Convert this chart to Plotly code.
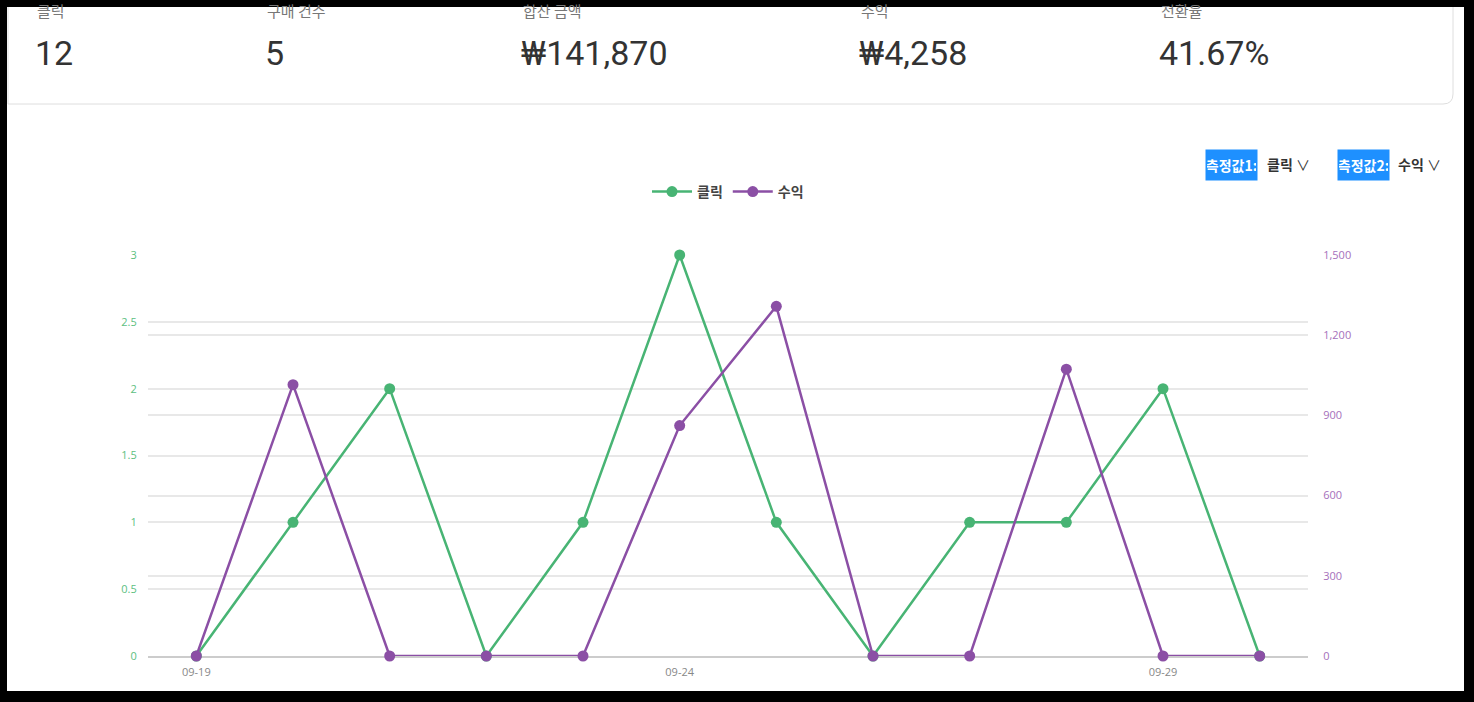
import plotly.graph_objects as go

dates = ["09-19", "09-20", "09-21", "09-22", "09-23", "09-24", "09-25", "09-26", "09-27", "09-28", "09-29", "09-30"]
clicks = [0, 1, 2, 0, 1, 3, 1, 0, 1, 1, 2, 0]
revenue = [0, 1015, 0, 0, 0, 862, 1308, 0, 0, 1073, 0, 0]
x_tick_labels = ["09-19", "09-24", "09-29"]
left_ticks = [0, 0.5, 1, 1.5, 2, 2.5, 3]
right_ticks = [0, 300, 600, 900, 1200, 1500]

stat_labels = ["클릭", "구매 건수", "합산 금액", "수익", "전환율"]
stat_values = ["12", "5", "₩141,870", "₩4,258", "41.67%"]
stat_x_px = [35, 265, 521, 859, 1159]

W, H = 1474, 702
L, R, T, B = 148, 1308, 255, 656
GREEN = "#48b474"
PURPLE = "#8b4fa5"

def px(x):
    return (x - L) / (R - L)

def py(y):
    return (B - y) / (B - T)

fig = go.Figure()
fig.add_trace(go.Scatter(
    x=dates, y=clicks, name="클릭", mode="lines+markers", cliponaxis=False,
    line=dict(color=GREEN, width=2.5), marker=dict(size=11, color=GREEN),
    yaxis="y"))
fig.add_trace(go.Scatter(
    x=dates, y=revenue, name="수익", mode="lines+markers", cliponaxis=False,
    line=dict(color=PURPLE, width=2.5), marker=dict(size=11, color=PURPLE),
    yaxis="y2"))

shapes = []
# stats card border (rounded bottom-right corner)
r = 10
path = (f"M {px(8)},{py(-5)} L {px(8)},{py(104)} L {px(1453 - r)},{py(104)} "
        f"Q {px(1453)},{py(104)} {px(1453)},{py(104 - r)} L {px(1453)},{py(-5)}")
shapes.append(dict(type="path", xref="paper", yref="paper", path=path,
                   line=dict(color="#dedede", width=1), layer="below"))
# black frame
for (a, b, c, d) in [(-10, -10, W + 10, 7), (-10, -10, 7, H + 10),
                     (1464, -10, W + 10, H + 10), (-10, 691, W + 10, H + 10)]:
    shapes.append(dict(type="rect", xref="paper", yref="paper",
                       x0=px(a), x1=px(c), y0=py(b), y1=py(d),
                       fillcolor="black", line=dict(width=0), layer="above"))

annotations = []
for lab, val, xp in zip(stat_labels, stat_values, stat_x_px):
    annotations.append(dict(xref="paper", yref="paper", x=px(xp), y=py(11),
                            text=lab, showarrow=False, xanchor="left", yanchor="middle",
                            font=dict(family="Noto Sans CJK KR", size=15, color="#777777")))
    annotations.append(dict(xref="paper", yref="paper", x=px(xp - 2), y=py(53),
                            text=val, showarrow=False, xanchor="left", yanchor="middle",
                            font=dict(family="Roboto", size=34, color="#333333")))

# measure selectors
for box_x, txt, sel_x, sel in [(1205, "측정값1:", 1265, "클릭"), (1337, "측정값2:", 1396, "수익")]:
    annotations.append(dict(xref="paper", yref="paper", x=px(box_x), y=py(165),
                            text="<b>" + txt + "</b>", showarrow=False,
                            xanchor="left", yanchor="middle", width=49, height=28,
                            bgcolor="#1e90ff", borderpad=1,
                            font=dict(family="Noto Sans CJK KR", size=14, color="white")))
    annotations.append(dict(xref="paper", yref="paper", x=px(sel_x), y=py(164),
                            text="<b>" + sel + "</b> ∨",
                            showarrow=False, xanchor="left", yanchor="middle",
                            font=dict(family="Noto Sans CJK KR", size=14, color="#333333")))

fig.update_layout(
    width=W, height=H,
    margin=dict(l=L, r=W - R, t=T, b=H - B, pad=0),
    paper_bgcolor="white", plot_bgcolor="white",
    showlegend=True,
    legend=dict(orientation="h", x=0.5, xanchor="center", y=py(192), yanchor="middle",
                font=dict(family="Noto Sans CJK KR", size=14, color="#444444", weight="bold"),
                itemwidth=40, traceorder="normal"),
    xaxis=dict(type="category", range=[-0.5, 11.5], tickmode="array",
               tickvals=x_tick_labels, ticktext=x_tick_labels,
               showgrid=False, showline=True, linecolor="#cccccc", linewidth=1.5,
               ticks="outside", ticklen=5, tickcolor="rgba(0,0,0,0)",
               tickfont=dict(family="Open Sans", size=11, color="#888888"),
               zeroline=False, layer="below traces"),
    yaxis=dict(range=[0, 3], tickmode="array", tickvals=left_ticks,
               showgrid=True, gridcolor="#e8e8e8", gridwidth=1.5, zeroline=False,
               tickfont=dict(family="Open Sans", size=11, color="#5cc07f"),
               ticks="outside", ticklen=8, tickcolor="rgba(0,0,0,0)", layer="below traces"),
    yaxis2=dict(range=[0, 1500], tickmode="array", tickvals=right_ticks,
                overlaying="y", side="right", separatethousands=True, tickformat=",d",
                showgrid=True, gridcolor="#e8e8e8", gridwidth=1.5, zeroline=False,
                tickfont=dict(family="Open Sans", size=11, color="#a570bb"),
                ticks="outside", ticklen=12, tickcolor="rgba(0,0,0,0)", layer="below traces"),
    shapes=shapes,
    annotations=annotations,
)

fig.write_html("out.html", config={"displayModeBar": False},
               post_script="document.body.style.margin='0';document.body.style.overflow='hidden';")
